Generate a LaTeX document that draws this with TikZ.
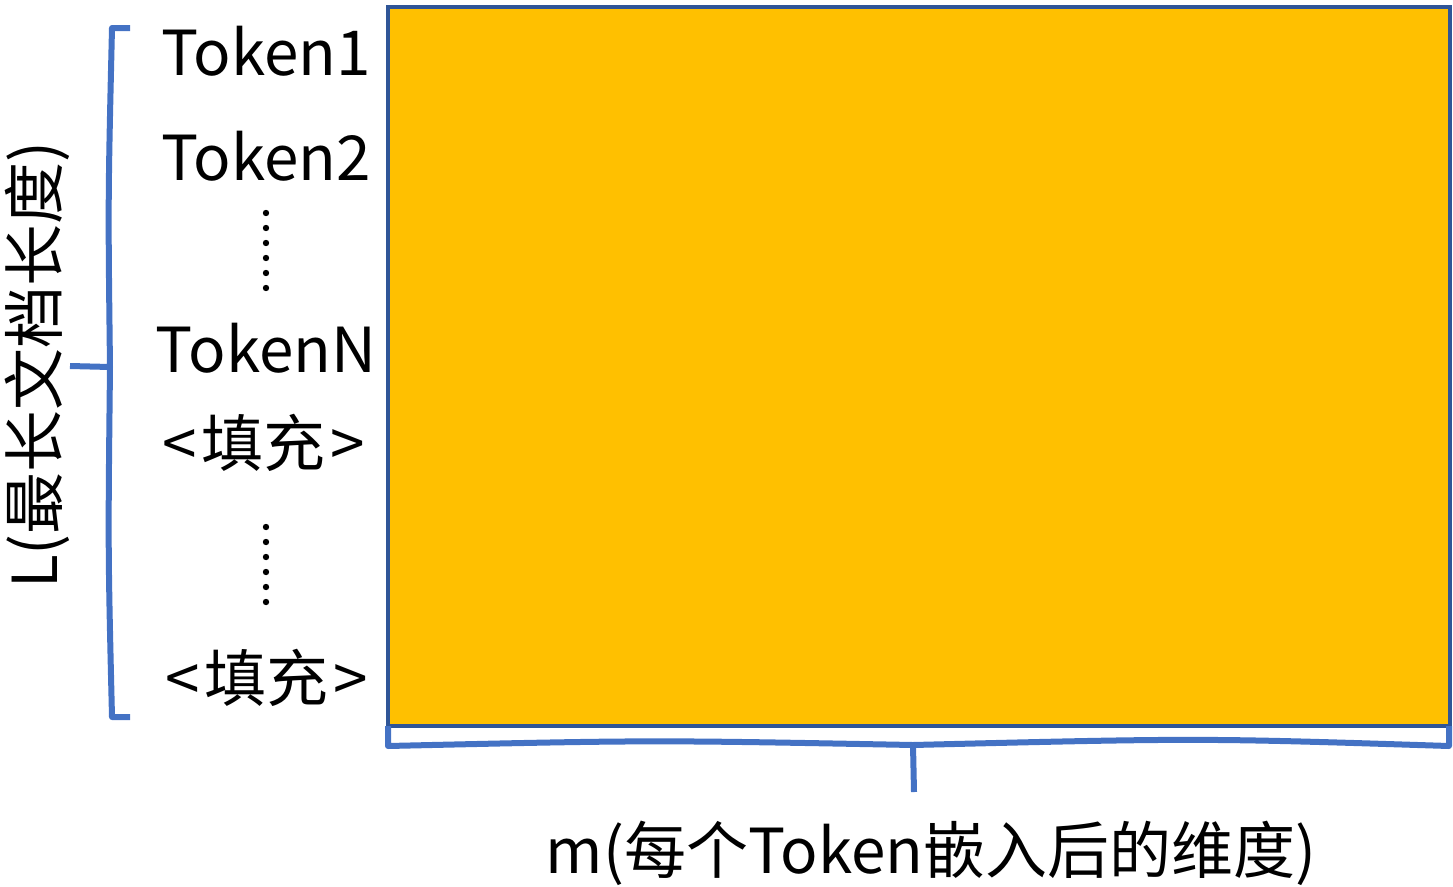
\documentclass[tikz,border=0pt]{standalone}
\usepackage{fontspec}
\setmainfont{Noto Sans CJK SC}
\usetikzlibrary{positioning}
\definecolor{matfill}{HTML}{FFC000}
\definecolor{matline}{HTML}{2F5597}
\definecolor{bracecol}{HTML}{4472C4}
\tikzset{
  tok/.style={font=\fontsize{62}{62}\selectfont, inner sep=0pt, anchor=base},
  axislabel/.style={font=\fontsize{62}{62}\selectfont, inner sep=0pt},
  brace/.style={draw=bracecol, line width=6pt, line join=round},
}
\begin{document}
\begin{tikzpicture}[x=1pt,y=-1pt]
	\useasboundingbox (0,0) rectangle (1453,886);
	% embedding matrix
	\draw[matline, line width=3.5pt, fill=matfill] (388,7) rectangle (1450,726);
	% token rows
	\node[tok] (tok1) at (266,75) {Token1};
	\node[tok] (tok2) at (266,180) {Token2};
	\foreach \y in {213,228,...,290} \fill (266,\y) circle (3.2pt);
	\node[tok] (tokN) at (266,372) {TokenN};
	\node[tok] (pad1) at (264,466) {<\hspace{5pt}填充\hspace{5pt}>};
	\foreach \y in {527,542,...,604} \fill (266,\y) circle (3.2pt);
	\node[tok] (pad2) at (267,701) {<\hspace{5pt}填充\hspace{5pt}>};
	% braces
	\coordinate (ltip) at (70,366);
	\coordinate (btip) at (914,792);
	\draw[brace] (130,28) -- (112,28) .. controls (108,200) .. (110,367) -- (ltip)
		(110,367) .. controls (108,550) .. (112,717) -- (130,717);
	\draw[brace] (388,726) -- (388,746) .. controls (650,740) .. (913,745) -- (btip)
		(913,745) .. controls (1200,738) .. (1449,746) -- (1449,726);
	\node[axislabel, rotate=90] (lenlabel) at (37,365) {L(最长文档长度)};
	\node[axislabel] (dimlabel) at (931,853) {m(每个Token嵌入后的维度)};
\end{tikzpicture}
\end{document}
